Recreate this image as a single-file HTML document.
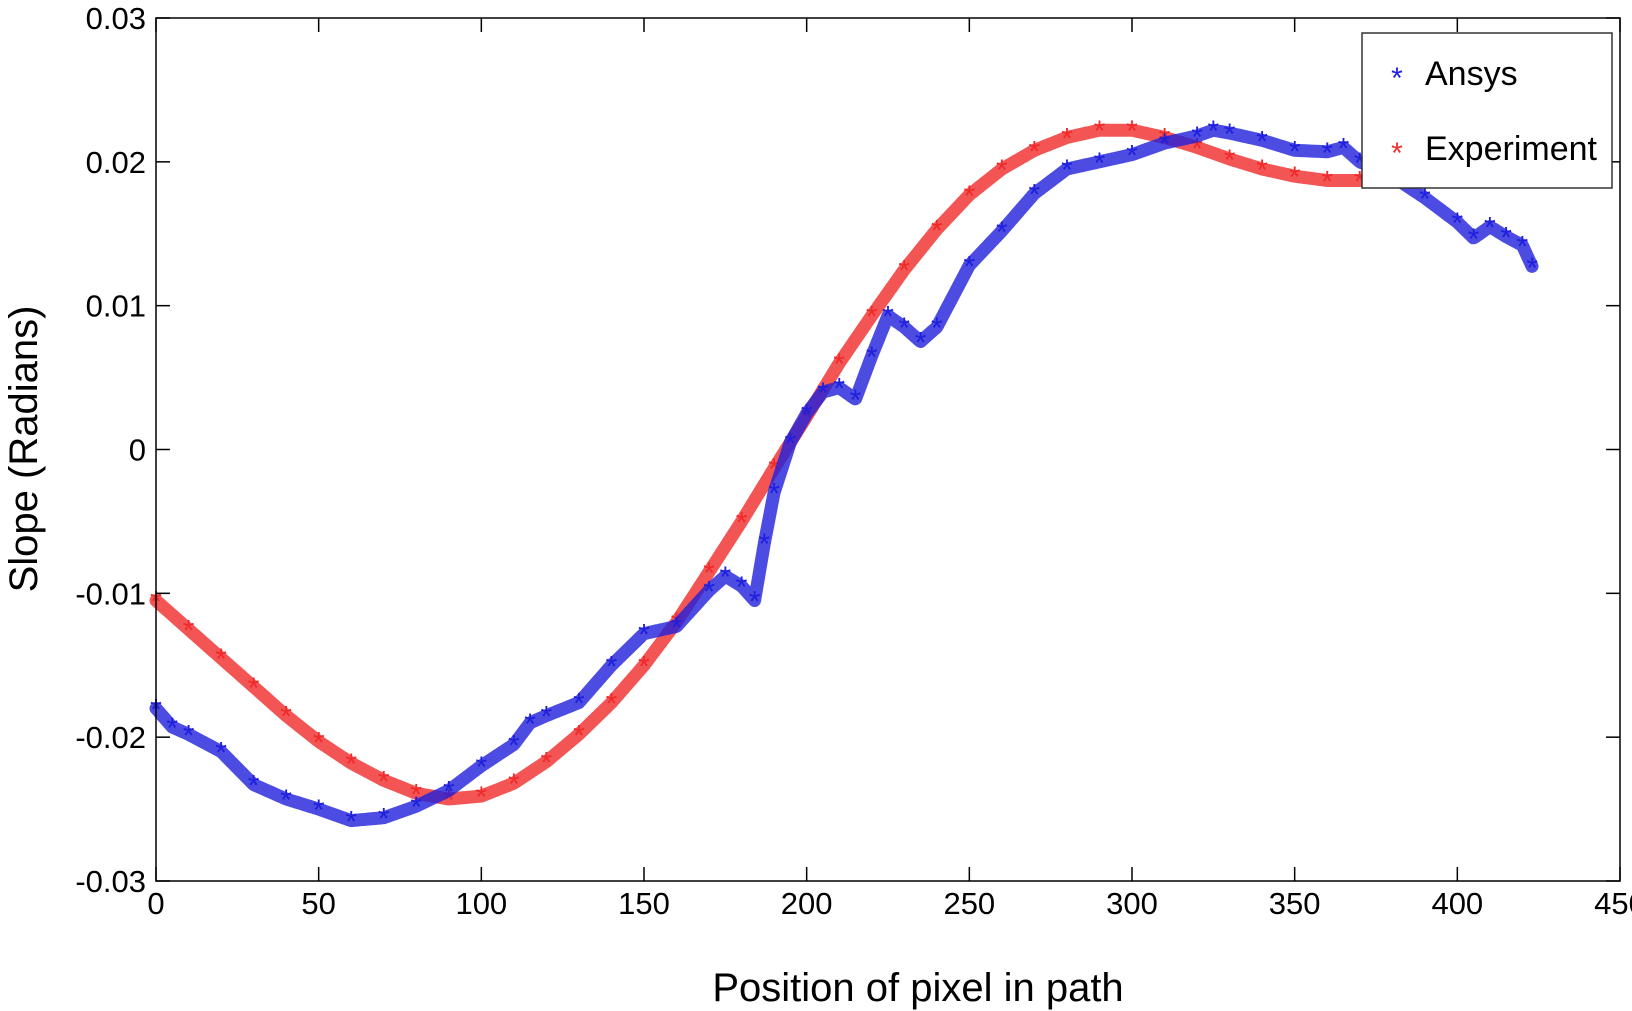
<!DOCTYPE html>
<html><head><meta charset="utf-8"><style>
html,body{margin:0;padding:0;background:#fff;}
svg{display:block;font-family:"Liberation Sans",Arial,sans-serif;}
</style></head><body>
<svg id="chart" width="1632" height="1011" viewBox="0 0 1632 1011" xmlns="http://www.w3.org/2000/svg">
<g id="plot"></g>
<rect x="156" y="18" width="1464" height="863" fill="none" stroke="#000" stroke-width="1.5"/>
<g id="axes"></g>
<text x="918" y="1001" font-size="40" text-anchor="middle">Position of pixel in path</text>
<text transform="translate(37,449) rotate(-90)" font-size="40" text-anchor="middle">Slope (Radians)</text>
<g>
<rect x="1362" y="33" width="250" height="155" fill="#fff" stroke="#333" stroke-width="1.5"/>
<text x="1397" y="88" font-size="30" fill="#2020e0" text-anchor="middle">*</text>
<text x="1425" y="85" font-size="34">Ansys</text>
<text x="1397" y="163" font-size="30" fill="#f03030" text-anchor="middle">*</text>
<text x="1425" y="160" font-size="34">Experiment</text>
</g>
</svg>
<script>
const xTicks=[0,50,100,150,200,250,300,350,400,450];
const yTicks=[-0.03,-0.02,-0.01,0,0.01,0.02,0.03];
const yTickLabels=["-0.03","-0.02","-0.01","0","0.01","0.02","0.03"];
const expX=[0,10,20,30,40,50,60,70,80,90,100,110,120,130,140,150,160,170,180,190,200,210,220,230,240,250,260,270,280,290,300,310,320,330,340,350,360,370,380,390,400,410,420];
const expY=[-0.0105,-0.0125,-0.0145,-0.0165,-0.0185,-0.0203,-0.0218,-0.023,-0.0239,-0.0243,-0.0241,-0.0232,-0.0217,-0.0198,-0.0176,-0.015,-0.012,-0.0085,-0.005,-0.0013,0.0023,0.006,0.0093,0.0125,0.0153,0.0177,0.0195,0.0208,0.0217,0.0222,0.0222,0.0217,0.021,0.0202,0.0195,0.019,0.0187,0.0187,0.0189,0.0193,0.0196,0.0198,0.02];
const ansX=[0,5,10,20,30,40,50,60,70,80,90,100,110,115,120,130,140,150,160,170,175,180,184,187,190,195,200,205,210,215,220,225,230,235,240,250,260,270,280,290,300,310,320,325,330,340,350,360,365,370,380,390,400,405,410,415,420,423];
const ansY=[-0.018,-0.0193,-0.0198,-0.021,-0.0233,-0.0243,-0.025,-0.0258,-0.0256,-0.0248,-0.0237,-0.022,-0.0205,-0.019,-0.0185,-0.0176,-0.015,-0.0128,-0.0123,-0.0098,-0.0088,-0.0095,-0.0105,-0.0065,-0.003,0.0005,0.0025,0.004,0.0043,0.0035,0.0065,0.0093,0.0085,0.0075,0.0085,0.0128,0.0152,0.0178,0.0195,0.02,0.0205,0.0213,0.0218,0.0222,0.022,0.0215,0.0208,0.0207,0.021,0.02,0.019,0.0175,0.0158,0.0147,0.0155,0.0148,0.0142,0.0127];
const NS="http://www.w3.org/2000/svg";
const L=156,R=1620,T=18,B=881;
function sx(v){return L+(v-0)/450*(R-L);}
function sy(v){return B-(v+0.03)/0.06*(B-T);}
const axes=document.getElementById('axes');
const plot=document.getElementById('plot');
function mk(tag,attrs,parent){const e=document.createElementNS(NS,tag);for(const k in attrs)e.setAttribute(k,attrs[k]);parent.appendChild(e);return e;}
xTicks.forEach(v=>{
  const x=sx(v);
  const t1=mk('line',{x1:x,x2:x,y1:B,y2:B-14,stroke:'#000','stroke-width':1.5},axes);
  
  
  const t2=mk('line',{x1:x,x2:x,y1:T,y2:T+14,stroke:'#000','stroke-width':1.5},axes);
  
  
  const tx=mk('text',{x:x,y:914,'font-size':31,'text-anchor':'middle'},axes);
  tx.textContent=String(v);
  
  
});
yTicks.forEach((v,i)=>{
  const y=sy(v);
  const t1=mk('line',{x1:L,x2:L+14,y1:y,y2:y,stroke:'#000','stroke-width':1.5},axes);
  
  
  const t2=mk('line',{x1:R,x2:R-14,y1:y,y2:y,stroke:'#000','stroke-width':1.5},axes);
  
  
  const tx=mk('text',{x:146,y:y+11,'font-size':31,'text-anchor':'end'},axes);
  tx.textContent=yTickLabels[i];
  
  
});
function series(xs,ys,color,name){
  const pts=xs.map((x,i)=>sx(x).toFixed(1)+','+sy(ys[i]).toFixed(1)).join(' ');
  const pl=mk('polyline',{points:pts,fill:'none',stroke:color,'stroke-width':13,'stroke-linejoin':'round','stroke-linecap':'round','stroke-dasharray':'3 1.5','opacity':0.8},plot);
  
  
  xs.forEach((x,i)=>{
    const m=mk('text',{x:sx(x),y:sy(ys[i])+11,'font-size':30,'text-anchor':'middle',fill:color},plot);
    m.textContent='*';
    
    
  });
}
series(expX,expY,'#f02a2a','experiment');
series(ansX,ansY,'#1f1fdc','ansys');
</script>
</body></html>
